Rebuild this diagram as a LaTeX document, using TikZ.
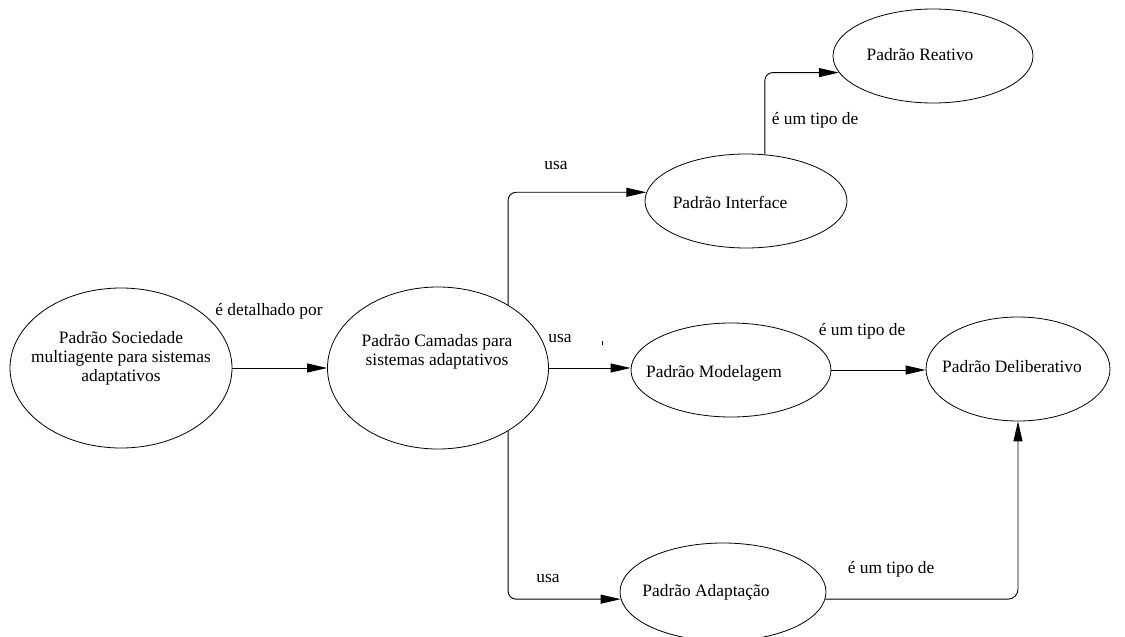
\documentclass[tikz,border=0pt]{standalone}
\usepackage{fontspec}
\setmainfont{Liberation Serif}
\usetikzlibrary{arrows.meta,shapes.geometric}
\begin{document}
\begin{tikzpicture}[x=1pt,y=-1pt,
  ell/.style={draw, ellipse, inner sep=0pt, line width=0.8pt},
  txt/.style={font=\fontsize{17.4}{19}\selectfont, align=center, inner sep=0pt},
  conn/.style={line width=0.9pt, -{Triangle[length=20pt,width=9pt]}, rounded corners=8pt}]
\useasboundingbox (0,0) rectangle (1125,637);
% ellipses
\node[ell, minimum width=222pt, minimum height=160pt] (soc) at (121,368) {};
\node[ell, minimum width=221pt, minimum height=162pt] (cam) at (438,368) {};
\node[ell, minimum width=202pt, minimum height=94pt] (int) at (746,201) {};
\node[ell, minimum width=200pt, minimum height=94pt] (rea) at (933,56) {};
\node[ell, minimum width=200pt, minimum height=94pt] (mod) at (731,370) {};
\node[ell, minimum width=184pt, minimum height=104pt] (del) at (1018,369) {};
\node[ell, minimum width=206pt, minimum height=98pt] (ada) at (723,592) {};
% texts inside
\node[txt] (tsoc) at (121,358) {Padrão Sociedade\\multiagente para sistemas\\adaptativos};
\node[txt] (tcam) at (437,352) {Padrão Camadas para\\sistemas adaptativos};
\node[txt] (tint) at (730,202) {Padrão Interface};
\node[txt] (trea) at (920,55) {Padrão Reativo};
\node[txt] (tmod) at (714,373) {Padrão Modelagem};
\node[txt] (tdel) at (1012,367) {Padrão Deliberativo};
\node[txt] (tada) at (706,592) {Padrão Adaptação};
% connectors
\draw[conn] (soc.east) -- (cam.west);
\draw[conn] (cam.42.5) |- (int.175);
\draw[conn] (int.68) |- (rea.190);
\draw[conn] (cam.east) -- (cam.east -| mod.west);
\draw[conn] (mod.east) -- (mod.east -| del.west);
\draw[conn] (cam.-42.5) |- (ada.184);
\draw[conn, rounded corners=10pt] (ada.-4) -| (del.south);
% connector labels
\node[txt] (l1) at (269,311) {é detalhado por};
\node[txt] (l2) at (556,165) {usa};
\node[txt] (l3) at (815,120) {é um tipo de};
\node[txt] (l4) at (560,338) {usa};
\node[txt] (l5) at (862,331) {é um tipo de};
\node[txt] (l6) at (548,578) {usa};
\node[txt] (l7) at (891,569) {é um tipo de};
\coordinate (tick) at (602,341);
\draw[line width=0.8pt] (tick) -- ++(0,4);
\end{tikzpicture}
\end{document}
